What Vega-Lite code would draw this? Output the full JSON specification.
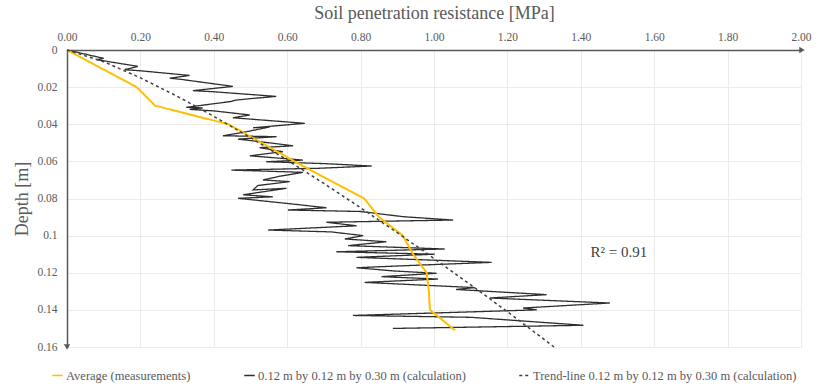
{
  "$schema": "https://vega.github.io/schema/vega-lite/v6.json",
  "width": 734,
  "height": 297,
  "autosize": {"type": "none"},
  "padding": {"left": 67, "top": 50, "right": 16, "bottom": 41},
  "background": "white",
  "config": {
    "font": "Liberation Serif, Times New Roman, serif",
    "view": {"stroke": null},
    "axis": {
      "labelFont": "Liberation Serif, Times New Roman, serif",
      "titleFont": "Liberation Serif, Times New Roman, serif",
      "labelColor": "#595959",
      "titleColor": "#595959",
      "labelFontSize": 11.5,
      "titleFontSize": 18,
      "titleFontWeight": "normal",
      "ticks": false,
      "domainColor": "#595959",
      "domainWidth": 1.5,
      "gridColor": "#ebebeb",
      "gridWidth": 1
    },
    "legend": {
      "labelFont": "Liberation Serif, Times New Roman, serif",
      "labelFontSize": 12.5,
      "labelColor": "#595959",
      "labelLimit": 0,
      "symbolStrokeWidth": 1.6,
      "symbolSize": 110,
      "symbolType": "stroke",
      "labelOffset": 2,
      "columnPadding": 50
    }
  },
  "datasets": {
    "average": [
      {"series": "Average (measurements)", "mpa": 0, "depth": 0},
      {"series": "Average (measurements)", "mpa": 0.095, "depth": 0.01},
      {"series": "Average (measurements)", "mpa": 0.19, "depth": 0.02},
      {"series": "Average (measurements)", "mpa": 0.24, "depth": 0.03},
      {"series": "Average (measurements)", "mpa": 0.44, "depth": 0.04},
      {"series": "Average (measurements)", "mpa": 0.53, "depth": 0.05},
      {"series": "Average (measurements)", "mpa": 0.62, "depth": 0.06},
      {"series": "Average (measurements)", "mpa": 0.714, "depth": 0.07},
      {"series": "Average (measurements)", "mpa": 0.81, "depth": 0.08},
      {"series": "Average (measurements)", "mpa": 0.85, "depth": 0.09},
      {"series": "Average (measurements)", "mpa": 0.915, "depth": 0.10},
      {"series": "Average (measurements)", "mpa": 0.943, "depth": 0.11},
      {"series": "Average (measurements)", "mpa": 0.98, "depth": 0.12},
      {"series": "Average (measurements)", "mpa": 0.986, "depth": 0.13},
      {"series": "Average (measurements)", "mpa": 0.989, "depth": 0.14},
      {"series": "Average (measurements)", "mpa": 1.057, "depth": 0.151}
    ],
    "calc": [
      {"series": "0.12 m by 0.12 m by 0.30 m (calculation)", "i": 0, "mpa": 0, "depth": 0},
      {"series": "0.12 m by 0.12 m by 0.30 m (calculation)", "i": 1, "mpa": 0.10, "depth": 0.0045},
      {"series": "0.12 m by 0.12 m by 0.30 m (calculation)", "i": 2, "mpa": 0.08, "depth": 0.0052},
      {"series": "0.12 m by 0.12 m by 0.30 m (calculation)", "i": 3, "mpa": 0.193, "depth": 0.0088},
      {"series": "0.12 m by 0.12 m by 0.30 m (calculation)", "i": 4, "mpa": 0.157, "depth": 0.0106},
      {"series": "0.12 m by 0.12 m by 0.30 m (calculation)", "i": 5, "mpa": 0.20, "depth": 0.0112},
      {"series": "0.12 m by 0.12 m by 0.30 m (calculation)", "i": 6, "mpa": 0.334, "depth": 0.0137},
      {"series": "0.12 m by 0.12 m by 0.30 m (calculation)", "i": 7, "mpa": 0.28, "depth": 0.0152},
      {"series": "0.12 m by 0.12 m by 0.30 m (calculation)", "i": 8, "mpa": 0.31, "depth": 0.0158},
      {"series": "0.12 m by 0.12 m by 0.30 m (calculation)", "i": 9, "mpa": 0.452, "depth": 0.0196},
      {"series": "0.12 m by 0.12 m by 0.30 m (calculation)", "i": 10, "mpa": 0.343, "depth": 0.0219},
      {"series": "0.12 m by 0.12 m by 0.30 m (calculation)", "i": 11, "mpa": 0.40, "depth": 0.0225},
      {"series": "0.12 m by 0.12 m by 0.30 m (calculation)", "i": 12, "mpa": 0.57, "depth": 0.025},
      {"series": "0.12 m by 0.12 m by 0.30 m (calculation)", "i": 13, "mpa": 0.50, "depth": 0.0262},
      {"series": "0.12 m by 0.12 m by 0.30 m (calculation)", "i": 14, "mpa": 0.46, "depth": 0.027},
      {"series": "0.12 m by 0.12 m by 0.30 m (calculation)", "i": 15, "mpa": 0.448, "depth": 0.0277},
      {"series": "0.12 m by 0.12 m by 0.30 m (calculation)", "i": 16, "mpa": 0.325, "depth": 0.0309},
      {"series": "0.12 m by 0.12 m by 0.30 m (calculation)", "i": 17, "mpa": 0.37, "depth": 0.0312},
      {"series": "0.12 m by 0.12 m by 0.30 m (calculation)", "i": 18, "mpa": 0.334, "depth": 0.032},
      {"series": "0.12 m by 0.12 m by 0.30 m (calculation)", "i": 19, "mpa": 0.40, "depth": 0.0328},
      {"series": "0.12 m by 0.12 m by 0.30 m (calculation)", "i": 20, "mpa": 0.498, "depth": 0.035},
      {"series": "0.12 m by 0.12 m by 0.30 m (calculation)", "i": 21, "mpa": 0.452, "depth": 0.0365},
      {"series": "0.12 m by 0.12 m by 0.30 m (calculation)", "i": 22, "mpa": 0.648, "depth": 0.0395},
      {"series": "0.12 m by 0.12 m by 0.30 m (calculation)", "i": 23, "mpa": 0.507, "depth": 0.0419},
      {"series": "0.12 m by 0.12 m by 0.30 m (calculation)", "i": 24, "mpa": 0.553, "depth": 0.0414},
      {"series": "0.12 m by 0.12 m by 0.30 m (calculation)", "i": 25, "mpa": 0.49, "depth": 0.044},
      {"series": "0.12 m by 0.12 m by 0.30 m (calculation)", "i": 26, "mpa": 0.425, "depth": 0.0462},
      {"series": "0.12 m by 0.12 m by 0.30 m (calculation)", "i": 27, "mpa": 0.571, "depth": 0.0467},
      {"series": "0.12 m by 0.12 m by 0.30 m (calculation)", "i": 28, "mpa": 0.466, "depth": 0.048},
      {"series": "0.12 m by 0.12 m by 0.30 m (calculation)", "i": 29, "mpa": 0.53, "depth": 0.0495},
      {"series": "0.12 m by 0.12 m by 0.30 m (calculation)", "i": 30, "mpa": 0.616, "depth": 0.0516},
      {"series": "0.12 m by 0.12 m by 0.30 m (calculation)", "i": 31, "mpa": 0.525, "depth": 0.0526},
      {"series": "0.12 m by 0.12 m by 0.30 m (calculation)", "i": 32, "mpa": 0.588, "depth": 0.0548},
      {"series": "0.12 m by 0.12 m by 0.30 m (calculation)", "i": 33, "mpa": 0.498, "depth": 0.057},
      {"series": "0.12 m by 0.12 m by 0.30 m (calculation)", "i": 34, "mpa": 0.643, "depth": 0.0593},
      {"series": "0.12 m by 0.12 m by 0.30 m (calculation)", "i": 35, "mpa": 0.543, "depth": 0.0602},
      {"series": "0.12 m by 0.12 m by 0.30 m (calculation)", "i": 36, "mpa": 0.70, "depth": 0.0612},
      {"series": "0.12 m by 0.12 m by 0.30 m (calculation)", "i": 37, "mpa": 0.83, "depth": 0.0625},
      {"series": "0.12 m by 0.12 m by 0.30 m (calculation)", "i": 38, "mpa": 0.689, "depth": 0.0637},
      {"series": "0.12 m by 0.12 m by 0.30 m (calculation)", "i": 39, "mpa": 0.448, "depth": 0.0647},
      {"series": "0.12 m by 0.12 m by 0.30 m (calculation)", "i": 40, "mpa": 0.643, "depth": 0.0659},
      {"series": "0.12 m by 0.12 m by 0.30 m (calculation)", "i": 41, "mpa": 0.58, "depth": 0.068},
      {"series": "0.12 m by 0.12 m by 0.30 m (calculation)", "i": 42, "mpa": 0.534, "depth": 0.07},
      {"series": "0.12 m by 0.12 m by 0.30 m (calculation)", "i": 43, "mpa": 0.607, "depth": 0.0709},
      {"series": "0.12 m by 0.12 m by 0.30 m (calculation)", "i": 44, "mpa": 0.52, "depth": 0.073},
      {"series": "0.12 m by 0.12 m by 0.30 m (calculation)", "i": 45, "mpa": 0.507, "depth": 0.0754},
      {"series": "0.12 m by 0.12 m by 0.30 m (calculation)", "i": 46, "mpa": 0.598, "depth": 0.0745},
      {"series": "0.12 m by 0.12 m by 0.30 m (calculation)", "i": 47, "mpa": 0.48, "depth": 0.078},
      {"series": "0.12 m by 0.12 m by 0.30 m (calculation)", "i": 48, "mpa": 0.561, "depth": 0.0791},
      {"series": "0.12 m by 0.12 m by 0.30 m (calculation)", "i": 49, "mpa": 0.466, "depth": 0.0799},
      {"series": "0.12 m by 0.12 m by 0.30 m (calculation)", "i": 50, "mpa": 0.616, "depth": 0.083},
      {"series": "0.12 m by 0.12 m by 0.30 m (calculation)", "i": 51, "mpa": 0.707, "depth": 0.085},
      {"series": "0.12 m by 0.12 m by 0.30 m (calculation)", "i": 52, "mpa": 0.602, "depth": 0.0862},
      {"series": "0.12 m by 0.12 m by 0.30 m (calculation)", "i": 53, "mpa": 0.80, "depth": 0.087},
      {"series": "0.12 m by 0.12 m by 0.30 m (calculation)", "i": 54, "mpa": 0.916, "depth": 0.0898},
      {"series": "0.12 m by 0.12 m by 0.30 m (calculation)", "i": 55, "mpa": 1.052, "depth": 0.0916},
      {"series": "0.12 m by 0.12 m by 0.30 m (calculation)", "i": 56, "mpa": 0.707, "depth": 0.0928},
      {"series": "0.12 m by 0.12 m by 0.30 m (calculation)", "i": 57, "mpa": 0.789, "depth": 0.0947},
      {"series": "0.12 m by 0.12 m by 0.30 m (calculation)", "i": 58, "mpa": 0.548, "depth": 0.097},
      {"series": "0.12 m by 0.12 m by 0.30 m (calculation)", "i": 59, "mpa": 0.72, "depth": 0.098},
      {"series": "0.12 m by 0.12 m by 0.30 m (calculation)", "i": 60, "mpa": 0.807, "depth": 0.1},
      {"series": "0.12 m by 0.12 m by 0.30 m (calculation)", "i": 61, "mpa": 0.757, "depth": 0.1018},
      {"series": "0.12 m by 0.12 m by 0.30 m (calculation)", "i": 62, "mpa": 0.87, "depth": 0.1033},
      {"series": "0.12 m by 0.12 m by 0.30 m (calculation)", "i": 63, "mpa": 0.766, "depth": 0.1054},
      {"series": "0.12 m by 0.12 m by 0.30 m (calculation)", "i": 64, "mpa": 1.029, "depth": 0.1072},
      {"series": "0.12 m by 0.12 m by 0.30 m (calculation)", "i": 65, "mpa": 0.734, "depth": 0.1087},
      {"series": "0.12 m by 0.12 m by 0.30 m (calculation)", "i": 66, "mpa": 1.002, "depth": 0.11},
      {"series": "0.12 m by 0.12 m by 0.30 m (calculation)", "i": 67, "mpa": 0.789, "depth": 0.1117},
      {"series": "0.12 m by 0.12 m by 0.30 m (calculation)", "i": 68, "mpa": 1.157, "depth": 0.1144},
      {"series": "0.12 m by 0.12 m by 0.30 m (calculation)", "i": 69, "mpa": 0.92, "depth": 0.1162},
      {"series": "0.12 m by 0.12 m by 0.30 m (calculation)", "i": 70, "mpa": 0.789, "depth": 0.1173},
      {"series": "0.12 m by 0.12 m by 0.30 m (calculation)", "i": 71, "mpa": 0.888, "depth": 0.119},
      {"series": "0.12 m by 0.12 m by 0.30 m (calculation)", "i": 72, "mpa": 1.007, "depth": 0.1203},
      {"series": "0.12 m by 0.12 m by 0.30 m (calculation)", "i": 73, "mpa": 0.857, "depth": 0.1221},
      {"series": "0.12 m by 0.12 m by 0.30 m (calculation)", "i": 74, "mpa": 1.011, "depth": 0.1234},
      {"series": "0.12 m by 0.12 m by 0.30 m (calculation)", "i": 75, "mpa": 0.811, "depth": 0.1252},
      {"series": "0.12 m by 0.12 m by 0.30 m (calculation)", "i": 76, "mpa": 1.111, "depth": 0.128},
      {"series": "0.12 m by 0.12 m by 0.30 m (calculation)", "i": 77, "mpa": 1.06, "depth": 0.129},
      {"series": "0.12 m by 0.12 m by 0.30 m (calculation)", "i": 78, "mpa": 1.307, "depth": 0.1318},
      {"series": "0.12 m by 0.12 m by 0.30 m (calculation)", "i": 79, "mpa": 1.152, "depth": 0.1336},
      {"series": "0.12 m by 0.12 m by 0.30 m (calculation)", "i": 80, "mpa": 1.479, "depth": 0.1363},
      {"series": "0.12 m by 0.12 m by 0.30 m (calculation)", "i": 81, "mpa": 1.243, "depth": 0.139},
      {"series": "0.12 m by 0.12 m by 0.30 m (calculation)", "i": 82, "mpa": 1.28, "depth": 0.14},
      {"series": "0.12 m by 0.12 m by 0.30 m (calculation)", "i": 83, "mpa": 0.779, "depth": 0.143},
      {"series": "0.12 m by 0.12 m by 0.30 m (calculation)", "i": 84, "mpa": 1.10, "depth": 0.144},
      {"series": "0.12 m by 0.12 m by 0.30 m (calculation)", "i": 85, "mpa": 1.407, "depth": 0.1483},
      {"series": "0.12 m by 0.12 m by 0.30 m (calculation)", "i": 86, "mpa": 0.888, "depth": 0.15}
    ],
    "trend": [
      {"series": "Trend-line 0.12 m by 0.12 m by 0.30 m (calculation)", "mpa": 0, "depth": 0},
      {"series": "Trend-line 0.12 m by 0.12 m by 0.30 m (calculation)", "mpa": 0.1, "depth": 0.0063},
      {"series": "Trend-line 0.12 m by 0.12 m by 0.30 m (calculation)", "mpa": 0.2, "depth": 0.015},
      {"series": "Trend-line 0.12 m by 0.12 m by 0.30 m (calculation)", "mpa": 0.3, "depth": 0.0249},
      {"series": "Trend-line 0.12 m by 0.12 m by 0.30 m (calculation)", "mpa": 0.4, "depth": 0.0357},
      {"series": "Trend-line 0.12 m by 0.12 m by 0.30 m (calculation)", "mpa": 0.5, "depth": 0.0472},
      {"series": "Trend-line 0.12 m by 0.12 m by 0.30 m (calculation)", "mpa": 0.6, "depth": 0.0593},
      {"series": "Trend-line 0.12 m by 0.12 m by 0.30 m (calculation)", "mpa": 0.7, "depth": 0.0719},
      {"series": "Trend-line 0.12 m by 0.12 m by 0.30 m (calculation)", "mpa": 0.8, "depth": 0.085},
      {"series": "Trend-line 0.12 m by 0.12 m by 0.30 m (calculation)", "mpa": 0.9, "depth": 0.0984},
      {"series": "Trend-line 0.12 m by 0.12 m by 0.30 m (calculation)", "mpa": 1.0, "depth": 0.1123},
      {"series": "Trend-line 0.12 m by 0.12 m by 0.30 m (calculation)", "mpa": 1.1, "depth": 0.1265},
      {"series": "Trend-line 0.12 m by 0.12 m by 0.30 m (calculation)", "mpa": 1.2, "depth": 0.141},
      {"series": "Trend-line 0.12 m by 0.12 m by 0.30 m (calculation)", "mpa": 1.3, "depth": 0.1559},
      {"series": "Trend-line 0.12 m by 0.12 m by 0.30 m (calculation)", "mpa": 1.327, "depth": 0.16}
    ],
    "fit": [{"mpa": 1.504, "depth": 0.1088, "label": "R² = 0.91"}],
    "xEnd": [{"mpa": 2, "depth": 0}],
    "yEnd": [{"mpa": 0, "depth": 0.16}]
  },
  "encoding": {
    "x": {
      "field": "mpa",
      "type": "quantitative",
      "scale": {"domain": [0, 2], "nice": false},
      "axis": {
        "orient": "top",
        "title": "Soil penetration resistance [MPa]",
        "values": [0, 0.2, 0.4, 0.6, 0.8, 1.0, 1.2, 1.4, 1.6, 1.8, 2.0],
        "format": ".2f",
        "labelPadding": 8,
        "titlePadding": 9,
        "labelFlush": false
      }
    },
    "y": {
      "field": "depth",
      "type": "quantitative",
      "scale": {"domain": [0, 0.16], "reverse": true, "nice": false},
      "axis": {
        "orient": "left",
        "title": "Depth [m]",
        "values": [0, 0.02, 0.04, 0.06, 0.08, 0.1, 0.12, 0.14, 0.16],
        "format": "~g",
        "labelPadding": 10,
        "titlePadding": 5,
        "labelFlush": false
      }
    }
  },
  "layer": [
    {
      "data": {"name": "calc"},
      "mark": {"type": "line", "strokeWidth": 1.3, "clip": false},
      "encoding": {
        "order": {"field": "i", "type": "quantitative"},
        "color": {"field": "series", "type": "nominal"},
        "strokeDash": {"field": "series", "type": "nominal"}
      }
    },
    {
      "data": {"name": "average"},
      "mark": {"type": "line", "strokeWidth": 2},
      "encoding": {
        "order": {"field": "depth", "type": "quantitative"},
        "color": {"field": "series", "type": "nominal"},
        "strokeDash": {"field": "series", "type": "nominal"}
      }
    },
    {
      "data": {"name": "trend"},
      "mark": {"type": "line", "strokeWidth": 1.5},
      "encoding": {
        "order": {"field": "depth", "type": "quantitative"},
        "color": {
          "field": "series",
          "type": "nominal",
          "scale": {
            "domain": ["Average (measurements)", "0.12 m by 0.12 m by 0.30 m (calculation)", "Trend-line 0.12 m by 0.12 m by 0.30 m (calculation)"],
            "range": ["#ffc000", "#2e2e2e", "#404040"]
          },
          "legend": {
            "title": null,
            "orient": "none",
            "direction": "horizontal",
            "legendX": -16,
            "legendY": 319
          }
        },
        "strokeDash": {
          "field": "series",
          "type": "nominal",
          "scale": {
            "domain": ["Average (measurements)", "0.12 m by 0.12 m by 0.30 m (calculation)", "Trend-line 0.12 m by 0.12 m by 0.30 m (calculation)"],
            "range": [[1, 0], [1, 0], [3, 3]]
          },
          "legend": {
            "title": null,
            "orient": "none",
            "direction": "horizontal",
            "legendX": -16,
            "legendY": 319
          }
        }
      }
    },
    {
      "data": {"name": "fit"},
      "mark": {"type": "text", "fontSize": 15, "color": "#404040", "font": "Liberation Serif, Times New Roman, serif"},
      "encoding": {"text": {"field": "label"}}
    },
    {
      "data": {"name": "xEnd"},
      "mark": {"type": "point", "shape": "triangle-right", "filled": true, "size": 40, "color": "#595959", "opacity": 1, "xOffset": 1}
    },
    {
      "data": {"name": "yEnd"},
      "mark": {"type": "point", "shape": "triangle-down", "filled": true, "size": 40, "color": "#595959", "opacity": 1}
    }
  ]
}
